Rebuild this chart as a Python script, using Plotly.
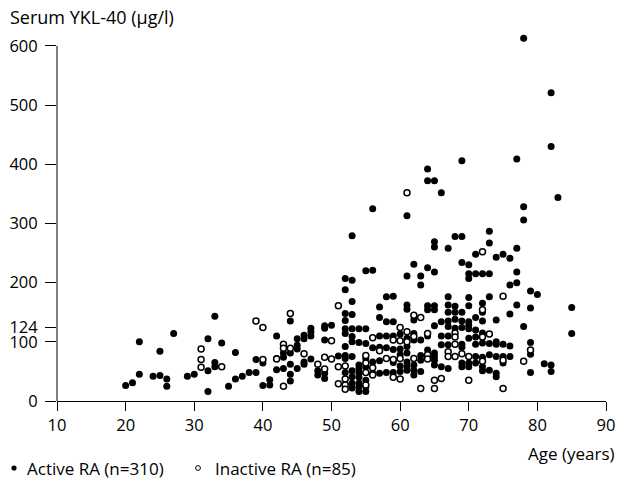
import plotly.graph_objects as go

# ---- data (age in years, serum YKL-40 in ug/l) ----
active_age = [
    20, 21, 22, 22, 24, 25, 25, 26, 26, 27, 29, 30,
    32, 32, 32, 33, 33, 33, 34, 35, 36, 36, 37, 38, 39, 39, 40, 40, 41, 41,
    42, 42, 42, 43, 43, 43, 44, 44, 44, 44, 44,
    45, 45, 45, 45, 46, 46, 46, 46, 47, 47, 47, 47, 48, 48,
    49, 49, 49, 49, 49, 50, 51,
    52, 52, 52, 52, 52, 52, 52, 52, 52, 52,
    53, 53, 53, 53, 53, 53, 53, 53, 53, 53, 53, 53,
    54, 54, 54, 54, 54, 54, 54, 54, 54,
    55, 55, 55, 55, 55, 55, 55, 55,
    56, 56, 56, 56, 56,
    57, 57, 57, 57, 57, 57,
    58, 58, 58, 58, 58,
    59, 59, 59, 59, 59, 59,
    60, 60, 60, 60, 60,
    61, 61, 61, 61, 61, 61, 61, 61, 61, 61,
    62, 62, 62, 62, 62, 62, 62,
    63, 63, 63, 63, 63, 63,
    64, 64, 64, 64, 64, 64, 64,
    65, 65, 65, 65, 65, 65, 65, 65, 65, 65, 65,
    66, 66, 66, 66, 66,
    67, 67, 67, 67, 67, 67, 67, 67, 67,
    68, 68, 68, 68, 68,
    69, 69, 69, 69, 69, 69, 69, 69, 69, 69,
    70, 70, 70, 70, 70, 70, 70, 70, 70, 70, 70,
    71, 71, 71, 71, 71, 71, 71, 71,
    72, 72, 72, 72, 72, 72, 72, 72, 72,
    73, 73, 73, 73, 73, 73, 73,
    74, 74, 74, 74, 74, 74, 74,
    75, 75, 75, 75,
    76, 76, 76, 76, 76,
    77, 77, 77, 77, 77,
    78, 78, 78, 78,
    79, 79, 79, 79, 79,
    80, 81, 82, 82, 82, 82, 83, 85, 85,
]
active_ykl = [
    26, 31, 100, 45, 42, 84, 43, 37, 25, 114, 42, 45,
    105, 51, 16, 143, 65, 58, 98, 25, 82, 37, 42, 48, 70, 48, 64, 26, 36, 27,
    110, 72, 53, 81, 74, 55, 135, 81, 62, 45, 34,
    105, 94, 88, 55, 111, 105, 66, 62, 123, 117, 110, 71, 51, 44,
    127, 123, 103, 47, 38, 128, 76,
    207, 188, 148, 136, 122, 114, 92, 77, 72, 48,
    279, 204, 168, 146, 122, 109, 100, 75, 51, 41, 30, 22,
    122, 99, 61, 55, 47, 40, 30, 24, 16,
    220, 122, 97, 72, 58, 35, 24, 16,
    325, 221, 90, 66, 47,
    159, 141, 110, 91, 68, 47,
    176, 134, 110, 90, 48,
    177, 134, 110, 87, 65, 48,
    113, 88, 78, 59, 50,
    313, 211, 162, 155, 106, 92, 81, 66, 58, 52,
    231, 137, 114, 103, 61, 52, 44,
    211, 196, 103, 77, 69, 50,
    392, 372, 225, 161, 154, 110, 86,
    372, 269, 260, 218, 161, 154, 127, 81, 75, 69, 61,
    352, 134, 110, 95, 58,
    258, 176, 162, 150, 135, 126, 110, 95, 55,
    278, 160, 150, 138, 123,
    406, 278, 234, 150, 135, 124, 96, 91, 64, 58,
    230, 215, 207, 175, 161, 134, 128, 122, 106, 64, 58,
    248, 215, 141, 120, 108, 96, 75, 64,
    215, 165, 150, 135, 115, 98, 74, 58, 51,
    287, 267, 215, 176, 97, 78, 52,
    243, 137, 100, 96, 75, 47, 41,
    248, 96, 75, 64,
    241, 196, 147, 93, 75,
    409, 258, 218, 200, 162,
    613, 328, 306, 126,
    186, 157, 99, 79, 48,
    180, 63, 521, 430, 61, 50, 344, 158, 114,
]
inactive_age = [
    31, 31, 31, 34, 39, 40, 40, 42, 43, 43, 43, 44, 44, 46, 48, 49, 49,
    50, 50, 51, 51, 51, 52, 52, 52, 52, 55, 55, 55, 55, 56, 56, 56,
    57, 58, 59, 59, 59, 60, 60, 60, 60, 61, 61, 61, 62, 62, 62, 63, 63,
    64, 64, 64, 65, 65, 66, 67, 67, 68, 68, 68, 68, 69, 70, 70,
    72, 72, 72, 72, 73, 75, 75, 75, 78, 79,
]
inactive_ykl = [
    88, 70, 57, 58, 135, 124, 70, 71, 96, 89, 25, 148, 89, 80, 62, 74, 54,
    102, 71, 161, 58, 29, 59, 37, 27, 20, 77, 64, 48, 27, 107, 56, 44,
    85, 72, 103, 70, 40, 124, 102, 72, 37, 352, 117, 100, 145, 109, 72, 141, 21,
    114, 78, 71, 35, 21, 38, 83, 75, 115, 108, 96, 75, 80, 75, 35,
    252, 154, 108, 67, 113, 177, 69, 21, 67, 86,
]
assert len(active_age) == len(active_ykl)
assert len(inactive_age) == len(inactive_ykl)

x_ticks = [10, 20, 30, 40, 50, 60, 70, 80, 90]
y_ticks = [0, 100, 124, 200, 300, 400, 500, 600]
y_axis_top = 600          # the drawn axis line stops at the last tick
y_view_top = 615          # a little head-room so the highest point is drawn

active_label = "Active RA (n=310)"
inactive_label = "Inactive RA (n=85)"

FONT = "Open Sans, Noto Sans, DejaVu Sans, sans-serif"
INK = "#000000"

W, H = 618, 479
ML, MR, MT, MB = 57, 12, 37, 78
PW, PH = W - ML - MR, H - MT - MB


def px(xp):
    return (xp - ML) / PW


def py(yp):
    return (H - MB - yp) / PH


fig = go.Figure()
fig.add_trace(go.Scatter(
    x=active_age, y=active_ykl, mode="markers", name=active_label,
    marker=dict(size=7, color="black", line=dict(width=0)),
    cliponaxis=False, showlegend=False,
))
fig.add_trace(go.Scatter(
    x=inactive_age, y=inactive_ykl, mode="markers", name=inactive_label,
    marker=dict(size=6, color="white", line=dict(width=1.5, color="black")),
    cliponaxis=False, showlegend=False,
))

common = dict(
    ticks="outside", tickcolor="black", tickwidth=1,
    showgrid=False, zeroline=False,
    tickfont=dict(family=FONT, size=16.5, color=INK),
)
fig.update_xaxes(range=[10, 90], tickvals=x_ticks, ticklen=9,
                 showline=True, linecolor="black", linewidth=1, **common)
fig.update_yaxes(range=[0, y_view_top], tickvals=y_ticks, ticklen=11,
                 ticklabelstandoff=4, showline=False, **common)

shapes = [
    # y-axis line from 0 up to the 600 tick
    dict(type="line", xref="paper", yref="y", x0=0, x1=0, y0=0, y1=y_axis_top,
         line=dict(color="black", width=1), layer="above"),
    # legend symbols
    dict(type="circle", xref="paper", yref="paper", xsizemode="pixel", ysizemode="pixel",
         xanchor=px(14), yanchor=py(468), x0=-2.6, x1=2.6, y0=-2.6, y1=2.6,
         fillcolor="black", line=dict(width=0)),
    dict(type="circle", xref="paper", yref="paper", xsizemode="pixel", ysizemode="pixel",
         xanchor=px(198), yanchor=py(468), x0=-2.4, x1=2.4, y0=-2.4, y1=2.4,
         fillcolor="white", line=dict(width=1, color="black")),
]

txt = dict(family=FONT, size=17, color=INK)
annotations = [
    dict(text="Serum YKL-40 (µg/l)", xref="paper", yref="paper",
         x=px(9), y=py(17), xanchor="left", yanchor="middle",
         showarrow=False, borderpad=0, font=dict(family=FONT, size=18, color=INK)),
    dict(text="Age (years)", xref="paper", yref="paper",
         x=px(616), y=py(453), xanchor="right", yanchor="middle",
         showarrow=False, borderpad=0, font=txt),
    dict(text=active_label, xref="paper", yref="paper",
         x=px(26), y=py(468), xanchor="left", yanchor="middle",
         showarrow=False, borderpad=0, font=txt),
    dict(text=inactive_label, xref="paper", yref="paper",
         x=px(214), y=py(468), xanchor="left", yanchor="middle",
         showarrow=False, borderpad=0, font=txt),
]

fig.update_layout(
    width=W, height=H,
    margin=dict(l=ML, r=MR, t=MT, b=MB, autoexpand=False),
    paper_bgcolor="white", plot_bgcolor="white",
    annotations=annotations, shapes=shapes,
    font=dict(family=FONT, size=16, color=INK),
)

fig.write_html("out.html", config={"displayModeBar": False})

# remove the browser's default page margin so the figure sits at the top-left
with open("out.html", "r", encoding="utf-8") as f:
    html = f.read()
html = html.replace("<head>", "<head><style>html,body{margin:0;padding:0;overflow:hidden}</style>", 1)
with open("out.html", "w", encoding="utf-8") as f:
    f.write(html)
